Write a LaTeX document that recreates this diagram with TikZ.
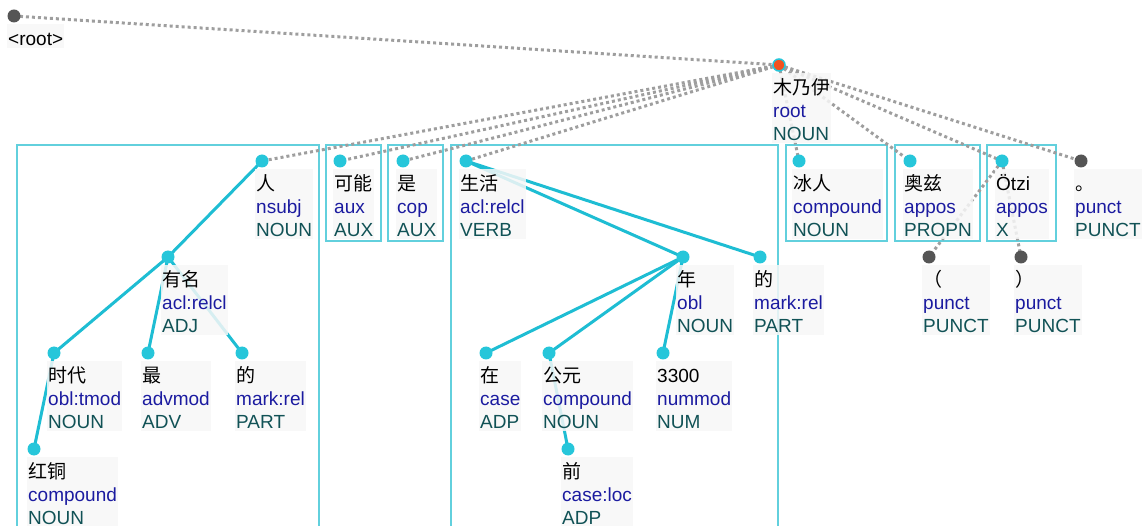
\documentclass[tikz,border=0pt]{standalone}
\usepackage{fontspec}
\setmainfont{Liberation Sans}
\newfontfamily\cjk{Noto Sans CJK SC}
\definecolor{edgec}{HTML}{1EBDD3}
\definecolor{dotc}{HTML}{26C6DA}
\definecolor{boxc}{HTML}{62D0DD}
\definecolor{grayd}{HTML}{555555}
\definecolor{grayl}{HTML}{9E9E9E}
\definecolor{rootc}{HTML}{F4511E}
\definecolor{relc}{HTML}{1B1BA0}
\definecolor{posc}{HTML}{115256}
\definecolor{labbg}{HTML}{F7F7F7}
\tikzset{
  dep/.style={draw=edgec, line width=3pt, line cap=round},
  dotdep/.style={draw=grayl, line width=3pt, dash pattern=on 3pt off 3pt},
  tokdot/.style={circle, fill=dotc, inner sep=0pt, minimum size=13pt},
  puncdot/.style={circle, fill=grayd, inner sep=0pt, minimum size=13pt},
  rootdot/.style={circle, fill=rootc, draw=dotc, line width=1.5pt, inner sep=0pt, minimum size=12pt},
  lab/.style={anchor=north west, fill=labbg, fill opacity=0.85, text opacity=1,
    inner xsep=1pt, inner ysep=3pt, align=left, font=\fontsize{19}{23}\selectfont,
    xshift=-7pt, yshift=-8pt},
  chunk/.style={draw=boxc, line width=1.5pt},
}
\newcommand\mktok[4]{\node[lab] (#1-l) at (#1) {\rule{0pt}{18pt}#2\\\textcolor{relc}{#3}\\\textcolor{posc}{#4}};}
\begin{document}
\begin{tikzpicture}[x=1pt,y=-1pt]
\useasboundingbox (0,0) rectangle (1148,526);
\clip (0,0) rectangle (1148,526);
% token positions
\coordinate (root0) at (14,16);
\coordinate (munaiyi) at (779,65);
\coordinate (ren) at (262,161);
\coordinate (keneng) at (340,161);
\coordinate (shi) at (403,161);
\coordinate (shenghuo) at (466,161);
\coordinate (bingren) at (799,161);
\coordinate (aozi) at (910,161);
\coordinate (otzi) at (1002,161);
\coordinate (juhao) at (1081,161);
\coordinate (youming) at (168,257);
\coordinate (nian) at (683,257);
\coordinate (de2) at (760,257);
\coordinate (lp) at (929,257);
\coordinate (rp) at (1021,257);
\coordinate (shidai) at (54,353);
\coordinate (zui) at (148,353);
\coordinate (de1) at (242,353);
\coordinate (zai) at (486,353);
\coordinate (gongyuan) at (549,353);
\coordinate (n3300) at (663,353);
\coordinate (hongtong) at (34,449);
\coordinate (qian) at (568,449);
% chunk boxes
\draw[chunk] (17,145) rectangle (319,540);
\draw[chunk] (326,145) rectangle (381,241);
\draw[chunk] (388,145) rectangle (443,241);
\draw[chunk] (451,145) rectangle (778,540);
\draw[chunk] (786,145) rectangle (887,241);
\draw[chunk] (895,145) rectangle (980,241);
\draw[chunk] (987,145) rectangle (1056,241);
% dotted (cross-chunk) dependencies
\draw[dotdep] (root0) -- (munaiyi);
\draw[dotdep] (munaiyi) -- (ren);
\draw[dotdep] (munaiyi) -- (keneng);
\draw[dotdep] (munaiyi) -- (shi);
\draw[dotdep] (munaiyi) -- (shenghuo);
\draw[dotdep] (munaiyi) -- (bingren);
\draw[dotdep] (munaiyi) -- (aozi);
\draw[dotdep] (munaiyi) -- (otzi);
\draw[dotdep] (munaiyi) -- (juhao);
\draw[dotdep] (otzi) -- (lp);
\draw[dotdep] (otzi) -- (rp);
% solid dependencies
\draw[dep] (ren) -- (youming);
\draw[dep] (youming) -- (shidai);
\draw[dep] (youming) -- (zui);
\draw[dep] (youming) -- (de1);
\draw[dep] (shidai) -- (hongtong);
\draw[dep] (shenghuo) -- (nian);
\draw[dep] (shenghuo) -- (de2);
\draw[dep] (nian) -- (zai);
\draw[dep] (nian) -- (gongyuan);
\draw[dep] (nian) -- (n3300);
\draw[dep] (gongyuan) -- (qian);
% labels
\node[lab] (root0-l) at (root0) {\rule{0pt}{18pt}<root>};
\mktok{munaiyi}{\cjk 木乃伊}{root}{NOUN}
\mktok{ren}{\cjk 人}{nsubj}{NOUN}
\mktok{keneng}{\cjk 可能}{aux}{AUX}
\mktok{shi}{\cjk 是}{cop}{AUX}
\mktok{shenghuo}{\cjk 生活}{acl:relcl}{VERB}
\mktok{bingren}{\cjk 冰人}{compound}{NOUN}
\mktok{aozi}{\cjk 奥兹}{appos}{PROPN}
\mktok{otzi}{Ötzi}{appos}{X}
\mktok{juhao}{\cjk 。}{punct}{PUNCT}
\mktok{youming}{\cjk 有名}{acl:relcl}{ADJ}
\mktok{nian}{\cjk 年}{obl}{NOUN}
\mktok{de2}{\cjk 的}{mark:rel}{PART}
\mktok{lp}{\cjk （}{punct}{PUNCT}
\mktok{rp}{\cjk ）}{punct}{PUNCT}
\mktok{shidai}{\cjk 时代}{obl:tmod}{NOUN}
\mktok{zui}{\cjk 最}{advmod}{ADV}
\mktok{de1}{\cjk 的}{mark:rel}{PART}
\mktok{zai}{\cjk 在}{case}{ADP}
\mktok{gongyuan}{\cjk 公元}{compound}{NOUN}
\mktok{n3300}{3300}{nummod}{NUM}
\mktok{hongtong}{\cjk 红铜}{compound}{NOUN}
\mktok{qian}{\cjk 前}{case:loc}{ADP}
% dots
\node[puncdot] (root0-d) at (root0) {};
\node[rootdot] (munaiyi-d) at (munaiyi) {};
\foreach \t in {ren,keneng,shi,shenghuo,bingren,aozi,otzi,youming,nian,de2,shidai,zui,de1,zai,gongyuan,n3300,hongtong,qian}
  \node[tokdot] (\t-d) at (\t) {};
\foreach \t in {juhao,lp,rp}
  \node[puncdot] (\t-d) at (\t) {};
\end{tikzpicture}
\end{document}
